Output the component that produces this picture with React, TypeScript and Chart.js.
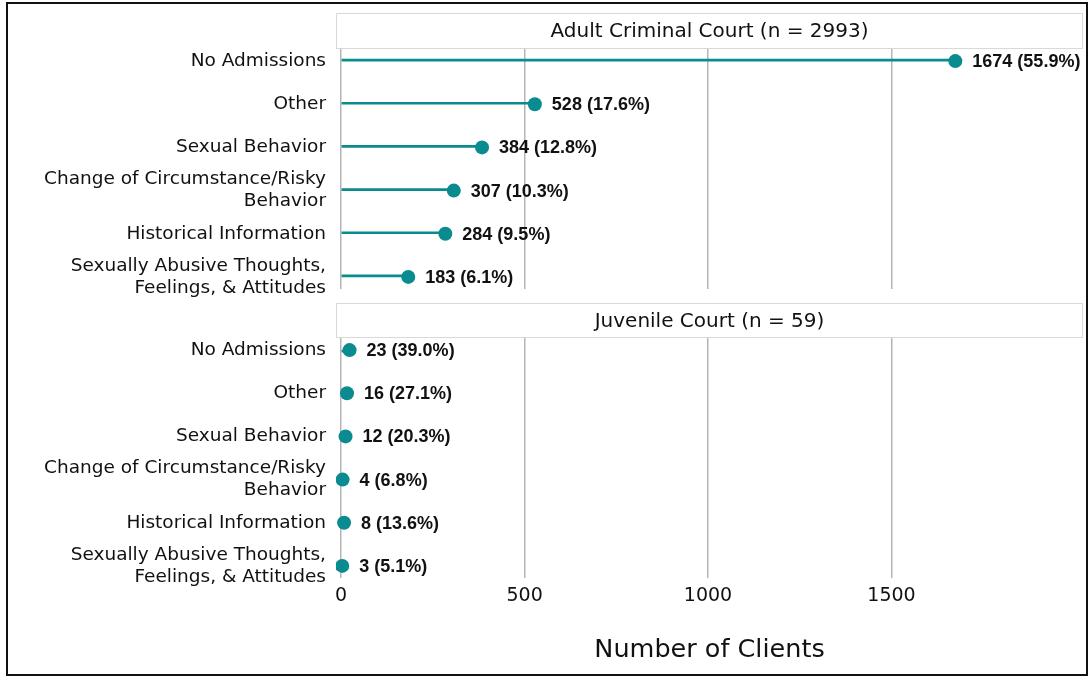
import React, { useEffect, useRef } from 'react';
import { Chart, registerables } from 'chart.js';

Chart.register(...registerables);

const categories: (string | string[])[] = [
  'No Admissions',
  'Other',
  'Sexual Behavior',
  ['Change of Circumstance/Risky', 'Behavior'],
  'Historical Information',
  ['Sexually Abusive Thoughts,', 'Feelings, & Attitudes'],
];
const panelTitles = ['Adult Criminal Court (n = 2993)', 'Juvenile Court (n = 59)'];
const adultCounts = [1674, 528, 384, 307, 284, 183];
const adultPercents = ['55.9', '17.6', '12.8', '10.3', '9.5', '6.1'];
const juvenileCounts = [23, 16, 12, 4, 8, 3];
const juvenilePercents = ['39.0', '27.1', '20.3', '6.8', '13.6', '5.1'];
const xTicks = [0, 500, 1000, 1500];
const xTitle = 'Number of Clients';

const TEAL = '#0a8b90';
const TEXT = '#111111';
const GRID = '#b5b5b5';
const FONT = 'DejaVu Sans';

const panels = [
  { axis: 'yTop', counts: adultCounts, percents: adultPercents },
  { axis: 'yBot', counts: juvenileCounts, percents: juvenilePercents },
];

const facetPlugin = {
  id: 'facets',
  beforeDatasetsDraw(chart: any) {
    const { ctx, chartArea } = chart;
    const { left, right, top } = chartArea;
    const yTop = chart.scales.yTop;
    const yBot = chart.scales.yBot;
    ctx.save();
    ctx.fillStyle = '#ffffff';
    ctx.fillRect(left - 2, yTop.bottom, right - left + 4, yBot.top - yTop.bottom);
    const strips = [
      { y0: 13, y1: top, text: panelTitles[0] },
      { y0: yTop.bottom + 14, y1: yBot.top, text: panelTitles[1] },
    ];
    for (const s of strips) {
      ctx.fillStyle = '#ffffff';
      ctx.fillRect(left, s.y0, right - left, s.y1 - s.y0);
      ctx.strokeStyle = '#d9d9d9';
      ctx.lineWidth = 1;
      ctx.strokeRect(left + 0.5, s.y0 + 0.5, right - left - 1, s.y1 - s.y0 - 1);
      ctx.fillStyle = TEXT;
      ctx.font = `20px "${FONT}"`;
      ctx.textAlign = 'center';
      ctx.textBaseline = 'middle';
      ctx.fillText(s.text, (left + right) / 2, (s.y0 + s.y1) / 2 + 1);
    }
    ctx.restore();
  },
  afterDatasetsDraw(chart: any) {
    const { ctx } = chart;
    const xs = chart.scales.x;
    ctx.save();
    ctx.fillStyle = TEXT;
    ctx.font = 'bold 18px "Liberation Sans", Arial, sans-serif';
    ctx.textAlign = 'left';
    ctx.textBaseline = 'middle';
    for (const p of panels) {
      const ys = chart.scales[p.axis];
      p.counts.forEach((v, i) => {
        const x = xs.getPixelForValue(v);
        const y = ys.getPixelForValue(i);
        ctx.fillText(`${v} (${p.percents[i]}%)`, x + 17, y + 1);
      });
    }
    ctx.restore();
  },
  afterDraw(chart: any) {
    const { ctx } = chart;
    ctx.save();
    ctx.strokeStyle = '#111111';
    ctx.lineWidth = 2;
    ctx.strokeRect(7, 3, 1080, 672);
    ctx.restore();
  },
};

function yAxis(weight: number) {
  return {
    type: 'linear' as const,
    position: 'left' as const,
    reverse: true,
    offset: false,
    min: -0.28,
    max: 5.28,
    stack: 'panels',
    stackWeight: 240,
    weight,
    afterBuildTicks: (s: any) => {
      s.ticks = categories.map((_, i) => ({ value: i }));
    },
    afterFit: (s: any) => {
      s.width = 336;
    },
    grid: { display: false, drawTicks: false, offset: false },
    border: { display: false },
    ticks: {
      autoSkip: false,
      padding: 10,
      color: TEXT,
      font: { family: FONT, size: 18.5 },
      callback: (_v: any, i: number) => categories[i],
    },
  };
}

export default function App() {
  const ref = useRef<HTMLCanvasElement>(null);
  useEffect(() => {
    document.body.style.margin = '0';
    document.documentElement.style.overflow = 'hidden';
    const datasets: any[] = [];
    for (const p of panels) {
      datasets.push({
        type: 'scatter',
        xAxisID: 'x',
        yAxisID: p.axis,
        data: p.counts.map((v, i) => ({ x: v, y: i })),
        pointRadius: 7,
        pointHoverRadius: 7,
        pointBackgroundColor: TEAL,
        pointBorderWidth: 0,
        borderColor: TEAL,
        showLine: false,
      });
    }
    for (const p of panels) {
      datasets.push({
        type: 'bar',
        indexAxis: 'y',
        xAxisID: 'x',
        yAxisID: p.axis,
        data: p.counts.map((v, i) => ({ x: [0, v], y: i })),
        backgroundColor: TEAL,
        borderWidth: 0,
        barThickness: 2,
      });
    }
    const chart = new Chart(ref.current as HTMLCanvasElement, {
      type: 'bar',
      data: { datasets },
      options: {
        responsive: false,
        devicePixelRatio: 1,
        animation: false,
        indexAxis: 'y',
        layout: { padding: { top: 49, right: 5, bottom: 0, left: 0 } },
        plugins: { legend: { display: false }, tooltip: { enabled: false } },
        scales: {
          x: {
            type: 'linear',
            position: 'bottom',
            min: -14,
            max: 2022,
            afterBuildTicks: (s: any) => {
              s.ticks = xTicks.map((v) => ({ value: v }));
            },
            afterFit: (s: any) => {
              s.height = 99;
            },
            grid: { color: GRID, lineWidth: 1.5, drawTicks: false },
            border: { display: false },
            ticks: {
              autoSkip: false,
              maxRotation: 0,
              padding: 7,
              color: TEXT,
              font: { family: FONT, size: 19 },
              callback: (v: any) => String(v),
            },
            title: {
              display: true,
              text: xTitle,
              color: TEXT,
              font: { family: FONT, size: 25.5 },
              padding: { top: 0, bottom: 11 },
            },
          },
          yTop: yAxis(3),
          yGap: {
            type: 'linear',
            position: 'left',
            offset: false,
            min: 0,
            max: 1,
            stack: 'panels',
            stackWeight: 49,
            weight: 2,
            afterFit: (s: any) => {
              s.width = 336;
            },
            grid: { display: false, drawTicks: false },
            border: { display: false },
            ticks: { display: false },
          },
          yBot: yAxis(1),
        } as any,
      },
      plugins: [facetPlugin],
    });
    return () => chart.destroy();
  }, []);
  return (
    <canvas
      ref={ref}
      width={1090}
      height={677}
      style={{ display: 'block', width: 1090, height: 677 }}
    />
  );
}
